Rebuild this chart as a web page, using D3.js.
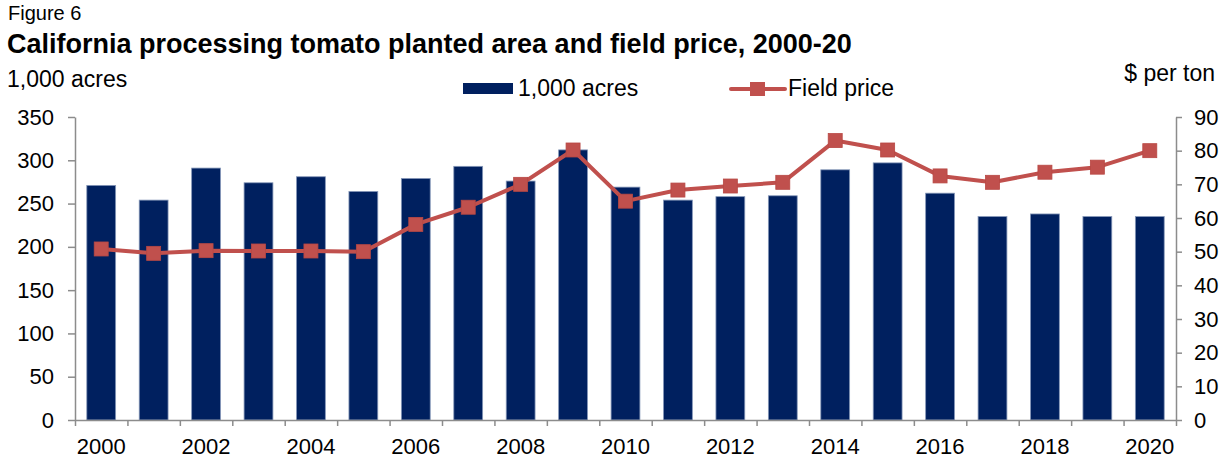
<!DOCTYPE html>
<meta charset="utf-8">
<title>California processing tomato planted area and field price, 2000-20</title>
<style>
  body { margin: 0; background: white; }
  svg { font-family: "Liberation Sans", Arial, sans-serif; }
  .axis path, .axis line { stroke: #8c8c8c; stroke-width: 1.5px; }
  .axis text { font-size: 22px; fill: #000; }
</style>
<body>
<script src="https://d3js.org/d3.v7.min.js"></script>
<script>

// data
const years = d3.range(2000, 2021).map(String);
const acres = [271, 254, 291, 274, 281, 264, 279, 293, 276, 312, 269,
               254, 258, 259, 289, 297, 262, 235, 238, 235, 235];
const price = [50.8, 49.5, 50.3, 50.2, 50.2, 50.0, 58.1, 63.2, 70.0, 80.2, 65.0,
               68.3, 69.5, 70.6, 83.0, 80.2, 72.5, 70.6, 73.6, 75.1, 80.0];
const leftTicks = [0, 50, 100, 150, 200, 250, 300, 350];
const rightTicks = [0, 10, 20, 30, 40, 50, 60, 70, 80, 90];

const W = 1222, H = 458;
const plotL = 75, plotR = 1176, plotT = 117, plotB = 420;

const svg = d3.select("body").append("svg")
    .attr("width", W)
    .attr("height", H);

// titles
svg.append("text").attr("x", 8).attr("y", 20)
    .style("font-size", "20px").text("Figure 6");
svg.append("text").attr("x", 7).attr("y", 53)
    .style("font-size", "27px").style("font-weight", "bold")
    .text("California processing tomato planted area and field price, 2000-20");
svg.append("text").attr("x", 7).attr("y", 87)
    .style("font-size", "23px").text("1,000 acres");
svg.append("text").attr("x", 1215).attr("y", 81)
    .attr("text-anchor", "end")
    .style("font-size", "23px").text("$ per ton");

// scales
var x = d3.scaleBand()
    .domain(years)
    .range([plotL, plotR])
    .paddingInner(0.45)
    .paddingOuter(0.225);

var xb = d3.scaleLinear().domain([0, years.length]).range([plotL, plotR]);

var y = d3.scaleLinear().domain([0, 350]).range([plotB, plotT]);
var y2 = d3.scaleLinear().domain([0, 90]).range([plotB, plotT]);

// bars
svg.selectAll("rect.bar")
  .data(acres)
  .enter().append("rect")
    .attr("class", "bar")
    .attr("x", function(d, i) { return x(years[i]); })
    .attr("width", x.bandwidth())
    .attr("y", function(d) { return y(d); })
    .attr("height", function(d) { return plotB - y(d); })
    .attr("fill", "#00205f")
    .attr("stroke", "#8597b8")
    .attr("stroke-width", 0.8);

// axes
svg.append("g")
    .attr("class", "axis")
    .attr("transform", "translate(" + plotL + ",0)")
    .call(d3.axisLeft(y).tickValues(leftTicks).tickSize(7).tickPadding(14).tickSizeOuter(0));

svg.append("g")
    .attr("class", "axis")
    .attr("transform", "translate(" + plotR + ",0)")
    .call(d3.axisRight(y2).tickValues(rightTicks).tickSize(6).tickPadding(12).tickSizeOuter(0));

svg.append("g")
    .attr("class", "axis")
    .attr("transform", "translate(0," + plotB + ")")
    .call(d3.axisBottom(xb).tickValues(d3.range(0, years.length + 1)).tickSize(6)
      .tickFormat("").tickSizeOuter(0));

var xl = svg.append("g")
    .attr("class", "axis")
    .attr("transform", "translate(0," + plotB + ")")
    .call(d3.axisBottom(x).tickValues(years.filter(function(d, i) { return i % 2 == 0; }))
      .tickSize(0).tickPadding(18));
xl.select(".domain").remove();

// price line
svg.append("path")
    .datum(price)
    .attr("fill", "none")
    .attr("stroke", "#c0504d")
    .attr("stroke-width", 4)
    .attr("stroke-linejoin", "round")
    .attr("d", d3.line()
      .x(function(d, i) { return x(years[i]) + x.bandwidth() / 2; })
      .y(function(d) { return y2(d); }));

svg.selectAll("rect.mk")
  .data(price)
  .enter().append("rect")
    .attr("class", "mk")
    .attr("x", function(d, i) { return x(years[i]) + x.bandwidth() / 2 - 7; })
    .attr("y", function(d) { return y2(d) - 7; })
    .attr("width", 14)
    .attr("height", 14)
    .attr("fill", "#c0504d")
    .attr("stroke", "#b84844")
    .attr("stroke-width", 0.8);

// legend
var lg = svg.append("g");
lg.append("rect").attr("x", 463).attr("y", 83).attr("width", 50).attr("height", 11)
    .attr("fill", "#00205f");
lg.append("text").attr("x", 518).attr("y", 96).style("font-size", "23px").text("1,000 acres");
lg.append("line").attr("x1", 731).attr("x2", 785).attr("y1", 89).attr("y2", 89)
    .attr("stroke", "#c0504d").attr("stroke-width", 4).attr("stroke-linecap", "round");
lg.append("rect").attr("x", 750).attr("y", 82).attr("width", 15).attr("height", 14)
    .attr("fill", "#c0504d");
lg.append("text").attr("x", 788).attr("y", 96).style("font-size", "23px").text("Field price");

</script>
</body>
